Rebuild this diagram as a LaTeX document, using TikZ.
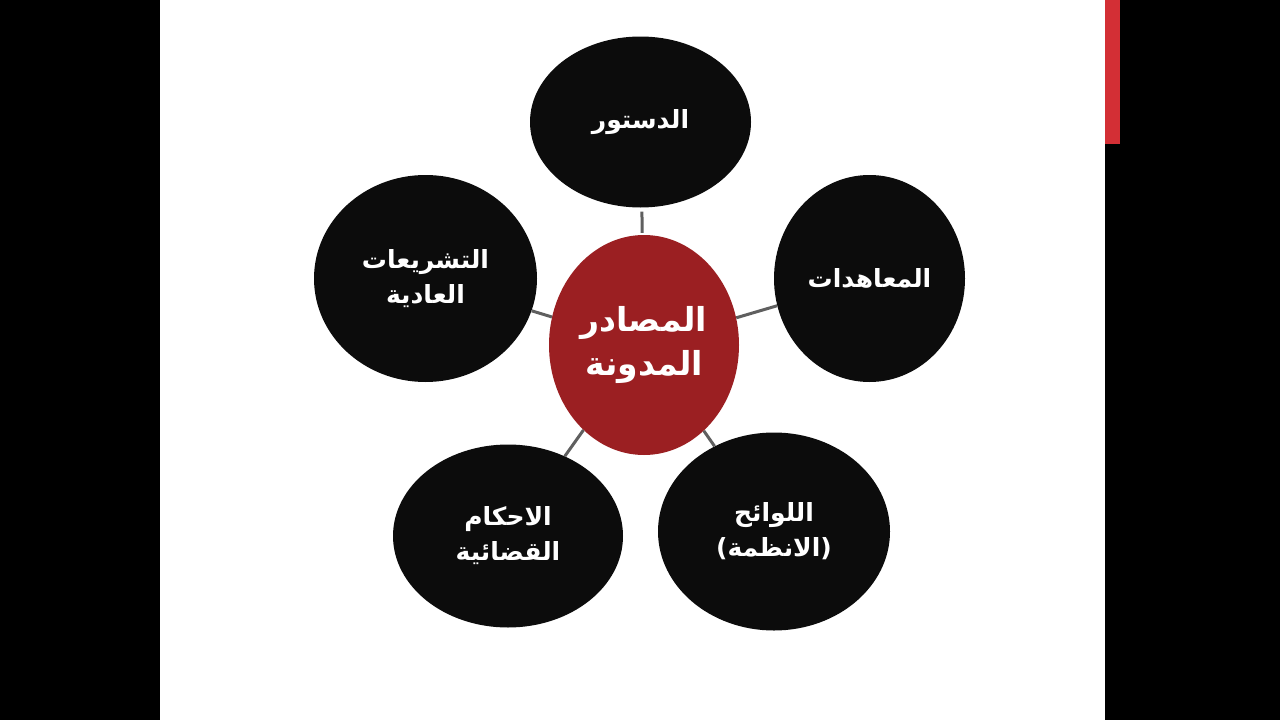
\documentclass[tikz,border=0pt]{standalone}
\usepackage{fontspec}
\newfontfamily\arabicfont[Script=Arabic]{DejaVu Sans}
\TeXXeTstate=1
\usetikzlibrary{shapes.geometric}
\definecolor{slidered}{HTML}{D32F35}
\definecolor{hubred}{HTML}{9B1F22}
\definecolor{bubble}{HTML}{0C0C0C}
\definecolor{linkgray}{HTML}{5F5F5F}
\tikzset{
  bubblenode/.style={ellipse, fill=bubble, inner sep=0pt, text=white, align=center,
    font=\arabicfont\bfseries\fontsize{25}{35}\selectfont},
  hubnode/.style={ellipse, fill=hubred, inner sep=0pt, text=white, align=center,
    font=\arabicfont\bfseries\fontsize{33}{44}\selectfont},
  conn/.style={draw=linkgray, line width=3pt}
}
\begin{document}
\begin{tikzpicture}[x=1pt, y=-1pt]
\useasboundingbox (0,0) rectangle (1280,720);
\fill[black] (0,0) rectangle (1280,720);
\fill[white] (160,0) rectangle (1105,720);
\fill[slidered] (1105,0) rectangle (1120,144);

\node[hubnode, minimum width=190pt, minimum height=220pt] (c) at (644,345)
  {\beginR المصادر\endR\\\beginR المدونة\endR};
\node[bubblenode, minimum width=221pt, minimum height=171pt] (t) at (640.5,122)
  {\beginR الدستور\endR};
\node[bubblenode, minimum width=191pt, minimum height=207pt] (r) at (869.5,278.5)
  {\beginR المعاهدات\endR};
\node[bubblenode, minimum width=223pt, minimum height=207pt] (l) at (425.5,278.5)
  {\beginR التشريعات\endR\\\beginR العادية\endR};
\node[bubblenode, minimum width=230pt, minimum height=183pt] (bl) at (508,536)
  {\beginR الاحكام\endR\\\beginR القضائية\endR};
\node[bubblenode, minimum width=232pt, minimum height=198pt] (br) at (774,531.5)
  {\beginR اللوائح\endR\\\beginR (الانظمة)\endR};

\draw[conn, shorten <=2pt, shorten >=4pt] (c) -- (t);
\draw[conn] (c) -- (r);
\draw[conn] (c) -- (l);
\draw[conn] (c) -- (bl);
\draw[conn] (c) -- (br);
\end{tikzpicture}
\end{document}
